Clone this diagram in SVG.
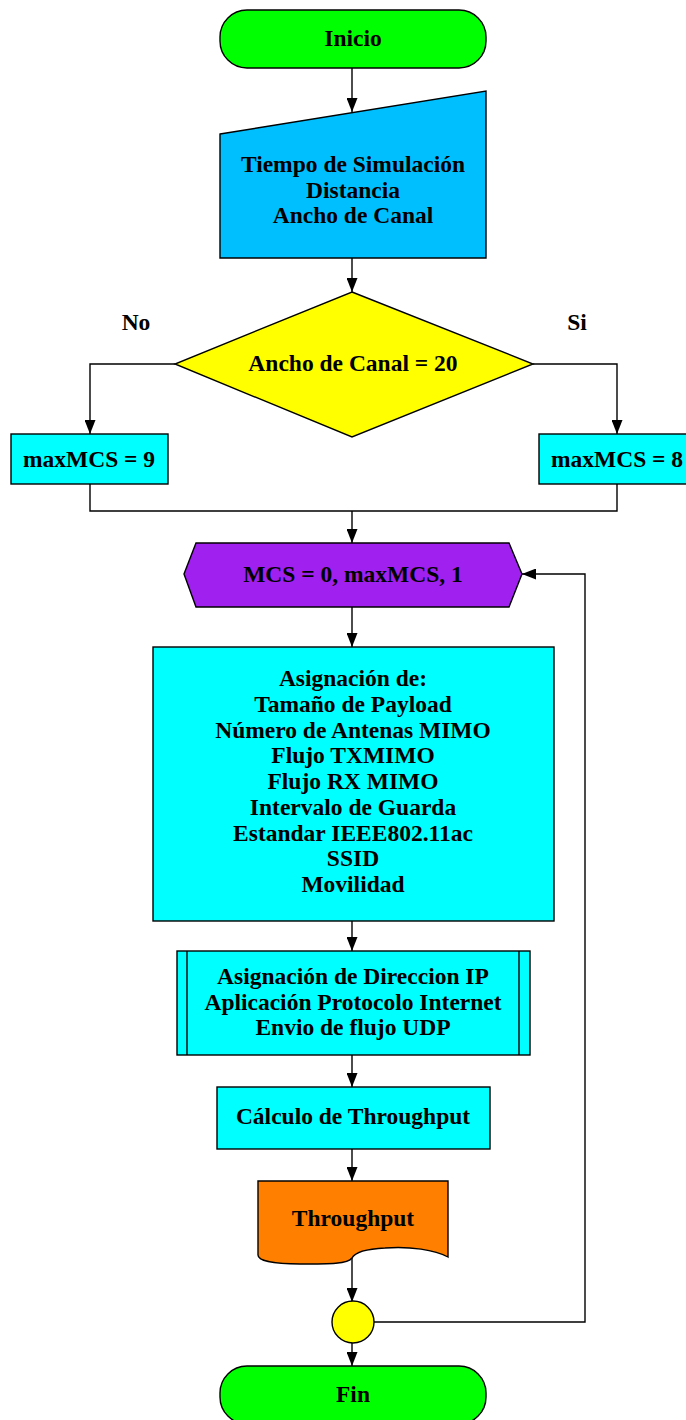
<svg xmlns="http://www.w3.org/2000/svg" width="686" height="1420" viewBox="0 0 686 1420">
<style>
.s{stroke:#000;stroke-width:1.4;}
.t{font-family:"Liberation Serif","Times New Roman",serif;font-weight:bold;font-size:23.5px;fill:#000;text-anchor:middle;}
.c{fill:none;stroke:#000;stroke-width:1.4;}
.a{marker-end:url(#ah);}
</style>
<defs>
<marker id="ah" markerUnits="userSpaceOnUse" markerWidth="15" markerHeight="11" refX="14" refY="5.5" orient="auto">
<path d="M0,0 L14,5.5 L0,11 Z" fill="#000"/>
</marker>
</defs>
<rect width="686" height="1420" fill="#fff"/>
<g id="connectors">
<path class="c a" d="M352,68 V112"/>
<path class="c a" d="M352,258 V292"/>
<path class="c a" d="M175,364 H90 V434"/>
<path class="c a" d="M533,364 H617 V434"/>
<path class="c" d="M90,484 V511 H617 V484"/>
<path class="c a" d="M352,511 V543"/>
<path class="c a" d="M352,607 V647"/>
<path class="c a" d="M352,921 V951"/>
<path class="c a" d="M352,1055 V1087"/>
<path class="c a" d="M352,1149 V1181"/>
<path class="c a" d="M352,1258 V1302"/>
<path class="c a" d="M352,1342 V1366"/>
<path class="c a" d="M374,1322 H585 V574 H522"/>
</g>
<g id="inicio">
<rect class="s" x="220" y="10" width="266" height="58" rx="27" fill="#00ff00"/>
<text class="t" x="353" y="46">Inicio</text>
</g>
<g id="entrada">
<polygon class="s" points="220,134 486,91 486,258 220,258" fill="#00bfff"/>
<text class="t" x="353" y="172">Tiempo de Simulación</text>
<text class="t" x="353" y="198">Distancia</text>
<text class="t" x="353" y="223">Ancho de Canal</text>
</g>
<g id="decision">
<polygon class="s" points="352,292 533,364 352,437 175,364" fill="#ffff00"/>
<text class="t" x="353" y="371">Ancho de Canal = 20</text>
<text class="t" x="136" y="330">No</text>
<text class="t" x="577" y="330">Si</text>
</g>
<g id="max9">
<rect class="s" x="11" y="434" width="157" height="50" fill="#00ffff"/>
<text class="t" x="89" y="467">maxMCS = 9</text>
</g>
<g id="max8">
<rect class="s" x="539" y="434" width="155" height="50" fill="#00ffff"/>
<text class="t" x="617" y="467">maxMCS = 8</text>
</g>
<g id="bucle">
<polygon class="s" points="184,574 196,543 509,543 522,574 509,607 196,607" fill="#a020f0"/>
<text class="t" x="353" y="582">MCS = 0, maxMCS, 1</text>
</g>
<g id="asignacion">
<rect class="s" x="153" y="647" width="401" height="274" fill="#00ffff"/>
<text class="t" x="353" y="686">Asignación de:</text>
<text class="t" x="353" y="712">Tamaño de Payload</text>
<text class="t" x="353" y="738">Número de Antenas MIMO</text>
<text class="t" x="353" y="763">Flujo TXMIMO</text>
<text class="t" x="353" y="789">Flujo RX MIMO</text>
<text class="t" x="353" y="815">Intervalo de Guarda</text>
<text class="t" x="353" y="841">Estandar IEEE802.11ac</text>
<text class="t" x="353" y="866">SSID</text>
<text class="t" x="353" y="892">Movilidad</text>
</g>
<g id="proceso">
<rect class="s" x="177" y="951" width="353" height="104" fill="#00ffff"/>
<path class="c" d="M187,951 V1055 M519,951 V1055"/>
<text class="t" x="353" y="984">Asignación de Direccion IP</text>
<text class="t" x="353" y="1010">Aplicación Protocolo Internet</text>
<text class="t" x="353" y="1035">Envio de flujo UDP</text>
</g>
<g id="calculo">
<rect class="s" x="217" y="1087" width="273" height="62" fill="#00ffff"/>
<text class="t" x="353" y="1124">Cálculo de Throughput</text>
</g>
<g id="salida">
<path class="s" d="M258,1181 H448 V1257 C435,1250 410,1246 385,1248 C365,1249 355,1252 352,1258 C348,1264 330,1264 300,1264 C275,1264 258,1261 258,1255 Z" fill="#ff8000"/>
<text class="t" x="353" y="1226">Throughput</text>
</g>
<g id="conector">
<circle class="s" cx="353" cy="1322" r="21" fill="#ffff00"/>
</g>
<g id="fin">
<rect class="s" x="220" y="1366" width="266" height="58" rx="27" fill="#00ff00"/>
<text class="t" x="353" y="1402">Fin</text>
</g>
</svg>
